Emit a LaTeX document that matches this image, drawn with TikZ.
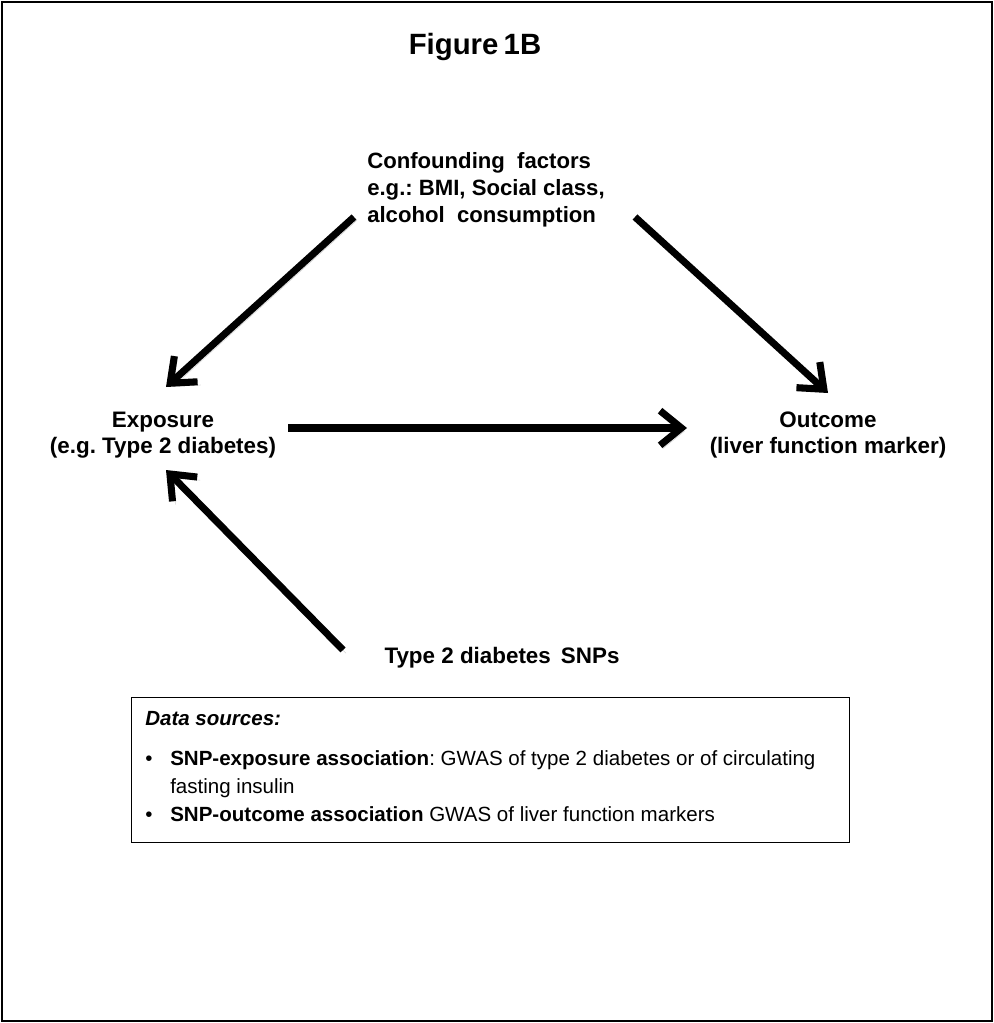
\documentclass[tikz,border=0pt]{standalone}
\usepackage{fontspec}
\setmainfont{Liberation Sans}
\usetikzlibrary{arrows.meta,calc}
\begin{document}
\frenchspacing
\begin{tikzpicture}[x=0.75pt,y=-0.75pt,
  lbl/.style={font=\bfseries\fontsize{16.8pt}{19.5pt}\selectfont, align=center, inner sep=0pt},
  bigarrow/.style={line width=5.3pt, -{Straight Barb[length=16pt,width=26pt]},
    preaction={draw=black!18, transform canvas={shift={(2.2pt,-2.4pt)}}}},
  databox/.style={draw, line width=0.8pt, minimum width=538.5pt, minimum height=108.75pt, inner sep=0pt},
  boxtext/.style={font=\fontsize{15.4pt}{21pt}\selectfont, align=left, inner sep=0pt}]
\useasboundingbox (0,0) rectangle (994,1023);
\draw[line width=1.2pt] (2,2) rectangle (992,1021);

\node[font=\bfseries\fontsize{22pt}{26pt}\selectfont, anchor=base, inner sep=0pt] (title) at (475,55) {Figure\hspace{0.18em}1B};

\node[lbl, align=left, anchor=north west, font=\bfseries\fontsize{16.6pt}{20.25pt}\selectfont] (conf) at (367,152)
  {Confounding\ \ factors\\e.g.: BMI, Social class,\\alcohol\ \ consumption};

\node[lbl] (exp) at (163,435) {Exposure\\(e.g. Type 2 diabetes)};
\node[lbl] (out) at (828,435) {Outcome\\(liver function marker)};
\node[lbl, anchor=base] (snp) at (502,663) {Type 2 diabetes\hspace{0.45em}SNPs};

\draw[bigarrow] ($(conf.north west)+(-13,65)$) -- ($(exp.center)+(3,-48)$);
\draw[bigarrow] ($(conf.north west)+(268,65)$) -- ($(out.center)+(0,-42)$);
\draw[bigarrow] ($(exp.center)+(125,-7)$) -- ($(out.center)+(-141,-7)$);
\draw[bigarrow] ($(snp.base)+(-159,-13)$) -- ($(exp.center)+(3,35)$);

\node[databox, anchor=north west] (data) at (131,697) {};
\node[boxtext, anchor=north west] (datatext) at (145,711)
  {{\bfseries\itshape Data sources:}\\[9pt]
   \makebox[18.75pt][l]{\textbullet}{\bfseries SNP-exposure association}: GWAS of type 2 diabetes or of circulating\\
   \hspace*{18.75pt}fasting insulin\\
   \makebox[18.75pt][l]{\textbullet}{\bfseries SNP-outcome association} GWAS of liver function markers};
\end{tikzpicture}
\end{document}
